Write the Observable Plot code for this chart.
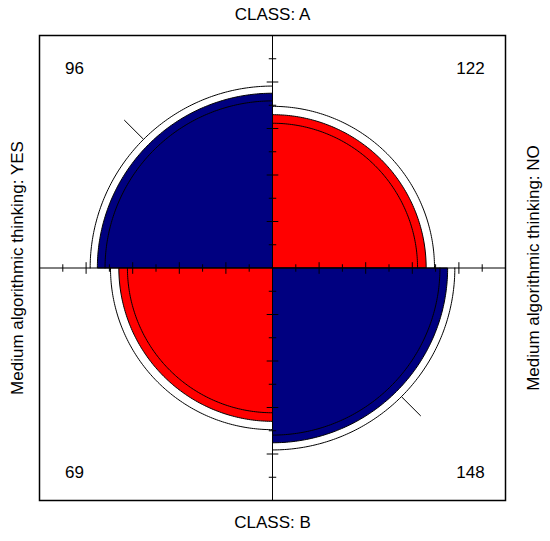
<!DOCTYPE html>
<html><head><meta charset="utf-8">
<script src="https://cdn.jsdelivr.net/npm/d3@7"></script>
<script src="https://cdn.jsdelivr.net/npm/@observablehq/plot@0.6"></script>
<style>body{margin:0;background:#fff} svg{display:block}</style>
</head><body><div id="chart"></div>
<script>
// ---- data ----
const rowLabels = ["CLASS: A", "CLASS: B"];
const colLabels = ["Medium algorithmic thinking: YES", "Medium algorithmic thinking: NO"];
const countsA = [96, 122];   // CLASS A: YES, NO
const countsB = [69, 148];   // CLASS B: YES, NO
const fillColors = ["#ff0000", "#000080"];
const confLevel = 0.95;

// ---- fourfold standardisation (equal margins) ----
const [a, b] = countsA, [c, d] = countsB;
const logOR = Math.log(a * d / (b * c));
const se = Math.sqrt(1 / a + 1 / b + 1 / c + 1 / d);
const zq = 1.959964;
function radii(lor) {
  const s = Math.exp(lor / 2);
  return {diag: Math.sqrt(s / (1 + s)), off: Math.sqrt(1 / (1 + s))};
}
const rFit = radii(logOR), rLo = radii(logOR - zq * se), rHi = radii(logOR + zq * se);
const posAssoc = logOR > 0;

const quads = [
  {count: a, a0: 90, a1: 180, diag: true, sx: -1, sy: 1},
  {count: b, a0: 0, a1: 90, diag: false, sx: 1, sy: 1},
  {count: c, a0: 180, a1: 270, diag: false, sx: -1, sy: -1},
  {count: d, a0: 270, a1: 360, diag: true, sx: 1, sy: -1}
];
function arc(r, a0, a1, closed) {
  const pts = d3.range(0, 121).map(i => {
    const t = (a0 + (a1 - a0) * i / 120) * Math.PI / 180;
    return {x: r * Math.cos(t), y: r * Math.sin(t)};
  });
  return closed ? [{x: 0, y: 0}, ...pts, {x: 0, y: 0}] : pts;
}

const marks = [];
// filled quarters
for (const q of quads) {
  const r = q.diag ? rFit.diag : rFit.off;
  const col = (q.diag === posAssoc) ? fillColors[1] : fillColors[0];
  marks.push(Plot.line(arc(r, q.a0, q.a1, true), {x: "x", y: "y", fill: col, stroke: "black", strokeWidth: 1, curve: "linear-closed"}));
}
// confidence rings
for (const q of quads) {
  for (const rr of [rLo, rHi]) {
    const r = q.diag ? rr.diag : rr.off;
    marks.push(Plot.line(arc(r, q.a0, q.a1, false), {x: "x", y: "y", stroke: "black", strokeWidth: 1}));
  }
}
// diagonal marker segments (outer ring to 0.9)
const segOuter = Math.max(rLo.diag, rHi.diag);
marks.push(Plot.link([{t: 135}, {t: 315}], {
  x1: q => segOuter * Math.cos(q.t * Math.PI / 180), y1: q => segOuter * Math.sin(q.t * Math.PI / 180),
  x2: q => 0.9 * Math.cos(q.t * Math.PI / 180), y2: q => 0.9 * Math.sin(q.t * Math.PI / 180),
  stroke: "black", strokeWidth: 1
}));
// axes
marks.push(Plot.ruleX([0], {stroke: "black"}), Plot.ruleY([0], {stroke: "black"}));
const tickPos = d3.range(-9, 10).filter(k => k !== 0).map(k => ({v: k / 10, len: Math.abs(k) % 2 === 0 ? 0.025 : 0.016}));
marks.push(Plot.link(tickPos, {x1: "v", x2: "v", y1: t => -t.len, y2: t => t.len, stroke: "black"}));
marks.push(Plot.link(tickPos, {y1: "v", y2: "v", x1: t => -t.len, x2: t => t.len, stroke: "black"}));
marks.push(Plot.frame({stroke: "black", strokeWidth: 1.5}));

// counts
marks.push(Plot.text(quads, {
  x: q => q.sx < 0 ? -0.85 : 0.85, y: q => q.sy > 0 ? 0.858 : -0.88,
  text: q => String(q.count), textAnchor: q => q.sx < 0 ? "start" : "end",
  fontSize: 17, fill: "black"
}));
// labels
marks.push(Plot.text([rowLabels[0]], {x: 0, y: 1.09, text: dd => dd, fontSize: 17, fill: "black"}));
marks.push(Plot.text([rowLabels[1]], {x: 0, y: -1.095, text: dd => dd, fontSize: 17, fill: "black"}));
marks.push(Plot.text([colLabels[0]], {x: -1.094, y: 0, text: dd => dd, rotate: -90, fontSize: 17, fill: "black"}));
marks.push(Plot.text([colLabels[1]], {x: 1.12, y: 0, text: dd => dd, rotate: -90, fontSize: 17, fill: "black"}));

const chart = Plot.plot({
  width: 550, height: 541,
  marginLeft: 39, marginRight: 45, marginTop: 35, marginBottom: 41,
  x: {domain: [-1, 1], axis: null},
  y: {domain: [-1, 1], axis: null},
  style: {fontFamily: "'Liberation Sans', Arial, sans-serif", background: "#fff", overflow: "visible"},
  marks
});
document.getElementById("chart").appendChild(chart);
</script>
</body></html>
